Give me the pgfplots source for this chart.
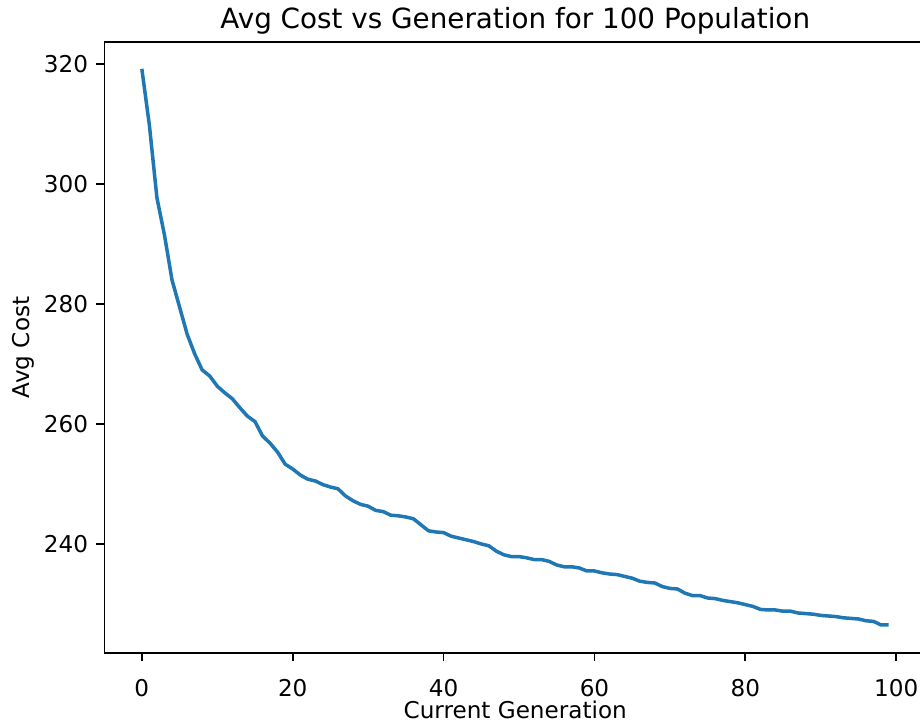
\documentclass[border=0pt]{standalone}
\usepackage{fontspec}
\setmainfont{DejaVu Sans}
\usepackage{pgfplots}
\pgfplotsset{compat=1.18}
\definecolor{mplblue}{HTML}{1F77B4}

\begin{document}
\begin{tikzpicture}
% page = 920x725 px at 0.5pt per px; right spine falls just outside, as in the source
\useasboundingbox (-52.25pt,-36pt) rectangle (407.75pt,326.5pt);
\clip (-52.25pt,-36pt) rectangle (407.75pt,326.5pt);
\begin{axis}[
  at={(0,0)}, anchor=south west,
  scale only axis,
  width=410.75pt, height=305.5pt,
  xmin=-4.95, xmax=103.95,
  ymin=221.83, ymax=323.67,
  xtick={0,20,40,60,80,100},
  ytick={240,260,280,300,320},
  tick align=outside,
  xtick pos=bottom, ytick pos=left,
  major tick length=4pt,
  every tick/.style={black, line width=0.9pt},
  axis line style={black, line width=0.9pt},
  ticklabel style={font=\fontsize{11.56}{13}\selectfont, inner sep=0pt},
  xticklabel style={anchor=north, yshift=-9pt},
  yticklabel style={anchor=east, xshift=-4pt},
  /pgf/number format/assume math mode=true,
  title={Avg Cost vs Generation for 100 Population},
  title style={font=\fontsize{13.9}{16}\selectfont, at={(axis description cs:0.5,1)}, anchor=base, yshift=1pt},
  xlabel={Current Generation},
  ylabel={Avg Cost},
  xlabel style={font=\fontsize{11.56}{13}\selectfont, at={(axis description cs:0.5,0)}, anchor=base, yshift=-32.5pt},
  ylabel style={font=\fontsize{11.56}{13}\selectfont, at={(axis description cs:0,0.5)}, anchor=base, yshift=37.5pt},
]
\addplot[mplblue, line width=1.75pt] coordinates {
(0,319.2)(1,309.8)(2,297.7)(3,291.5)(4,284.0)(5,279.5)(6,275.0)(7,271.7)(8,269.0)(9,268.0)
(10,266.3)(11,265.2)(12,264.2)(13,262.7)(14,261.3)(15,260.4)(16,258.0)(17,256.8)(18,255.3)(19,253.3)
(20,252.5)(21,251.5)(22,250.8)(23,250.5)(24,249.9)(25,249.5)(26,249.2)(27,248.0)(28,247.2)(29,246.6)
(30,246.3)(31,245.6)(32,245.4)(33,244.8)(34,244.7)(35,244.5)(36,244.2)(37,243.2)(38,242.2)(39,242.0)
(40,241.9)(41,241.3)(42,241.0)(43,240.7)(44,240.4)(45,240.0)(46,239.7)(47,238.8)(48,238.2)(49,237.9)
(50,237.9)(51,237.7)(52,237.4)(53,237.4)(54,237.1)(55,236.5)(56,236.2)(57,236.2)(58,236.0)(59,235.5)
(60,235.5)(61,235.2)(62,235.0)(63,234.9)(64,234.6)(65,234.3)(66,233.8)(67,233.6)(68,233.5)(69,232.9)
(70,232.6)(71,232.5)(72,231.8)(73,231.4)(74,231.4)(75,231.0)(76,230.9)(77,230.6)(78,230.4)(79,230.2)
(80,229.9)(81,229.6)(82,229.1)(83,229.0)(84,229.0)(85,228.8)(86,228.8)(87,228.5)(88,228.4)(89,228.3)
(90,228.1)(91,228.0)(92,227.9)(93,227.7)(94,227.6)(95,227.5)(96,227.2)(97,227.1)(98,226.5)(99,226.5)
};
\end{axis}
\end{tikzpicture}
\end{document}
